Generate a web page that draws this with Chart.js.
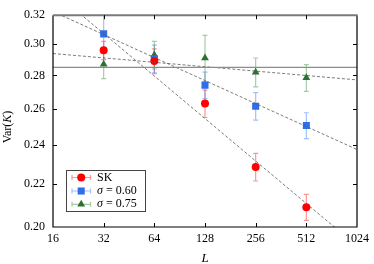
<!DOCTYPE html>
<html>
<head>
<meta charset="utf-8">
<script src="https://cdn.jsdelivr.net/npm/chart.js@4.4.0/dist/chart.umd.min.js"></script>
<style>
    html, body { margin: 0; padding: 0; background: #fff; }
    #wrap { width: 374px; height: 264px; }
</style>
</head>
<body>
<div id="wrap"><canvas id="varChart" width="374" height="264"></canvas></div>
<script>
// Data
const sizes = [32, 64, 128, 256, 512];
const xTicks = [16, 32, 64, 128, 256, 512, 1024];
const yTicks = [0.20, 0.22, 0.24, 0.26, 0.28, 0.30, 0.32];

const varSK = [0.296, 0.289, 0.263, 0.2285, 0.209];
const errSK = [0.006, 0.008, 0.008, 0.007, 0.006];
const var060 = [0.307, 0.2905, 0.274, 0.2615, 0.2505];
const err060 = [0.013, 0.009, 0.008, 0.008, 0.0072];
const var075 = [0.287, 0.293, 0.291, 0.282, 0.2785];
const err075 = [0.009, 0.009, 0.015, 0.009, 0.0083];

// power-law fits a * L^b for SK, 0.60, 0.75
const fitA = [0.4922, 0.3956, 0.3056];
const fitB = [-0.136, -0.0736, -0.01407];
const limitValue = 0.285;

const SERIF = "'Liberation Serif', 'DejaVu Serif', serif";

function fitLine(i) {
    return [16, 1024].map(L => ({ x: L, y: fitA[i] * Math.pow(L, fitB[i]) }));
}
function points(vals) {
    return sizes.map((L, i) => ({ x: L, y: vals[i] }));
}

const series = [
    { label: 'SK', values: varSK, errors: errSK, color: '#ff0000', bar: 'rgba(255,60,60,0.55)', style: 'circle', radius: 4 },
    { label: '0.60', values: var060, errors: err060, color: '#2f6ee8', bar: 'rgba(70,130,250,0.5)', style: 'rect', radius: 5 },
    { label: '0.75', values: var075, errors: err075, color: '#2d7030', bar: 'rgba(60,140,60,0.45)', style: 'triangle', radius: 4.5 }
];

// error bars under markers
const errorBars = {
    id: 'errorBars',
    beforeDatasetsDraw(chart) {
        const { ctx, chartArea, scales: { x, y } } = chart;
        ctx.save();
        ctx.beginPath();
        ctx.rect(chartArea.left, chartArea.top - 1, chartArea.width, chartArea.height + 2);
        ctx.clip();
        series.forEach(s => {
            ctx.strokeStyle = s.bar;
            ctx.lineWidth = 1.2;
            s.values.forEach((v, j) => {
                const px = x.getPixelForValue(sizes[j]);
                const top = y.getPixelForValue(v + s.errors[j]);
                const bot = y.getPixelForValue(v - s.errors[j]);
                ctx.beginPath();
                ctx.moveTo(px, top); ctx.lineTo(px, bot);
                ctx.moveTo(px - 2.5, top); ctx.lineTo(px + 2.5, top);
                ctx.moveTo(px - 2.5, bot); ctx.lineTo(px + 2.5, bot);
                ctx.stroke();
            });
        });
        ctx.restore();
    }
};

// frame, inner ticks, titles and legend
const decorations = {
    id: 'decorations',
    afterDraw(chart) {
        const { ctx, chartArea: a, scales: { x, y } } = chart;
        ctx.save();
        ctx.strokeStyle = '#000';
        ctx.lineWidth = 1.2;
        ctx.beginPath();
        ctx.moveTo(a.left, a.top); ctx.lineTo(a.left, a.bottom);
        ctx.lineTo(a.right, a.bottom); ctx.lineTo(a.right, a.top);
        ctx.stroke();
        ctx.strokeStyle = '#7a7a7a';
        ctx.lineWidth = 2;
        ctx.beginPath();
        ctx.moveTo(a.left, a.top); ctx.lineTo(a.right + 0.6, a.top);
        ctx.stroke();

        ctx.strokeStyle = '#000';
        ctx.lineWidth = 1;
        ctx.beginPath();
        xTicks.slice(1, -1).forEach(v => {
            const px = Math.round(x.getPixelForValue(v)) + 0.5;
            ctx.moveTo(px, a.bottom); ctx.lineTo(px, a.bottom - 4);
            ctx.moveTo(px, a.top); ctx.lineTo(px, a.top + 4);
        });
        yTicks.slice(1, -1).forEach(v => {
            const py = Math.round(y.getPixelForValue(v)) + 0.5;
            ctx.moveTo(a.left, py); ctx.lineTo(a.left + 4, py);
            ctx.moveTo(a.right, py); ctx.lineTo(a.right - 4, py);
        });
        ctx.stroke();

        // axis titles
        ctx.fillStyle = '#000';
        ctx.textBaseline = 'middle';
        ctx.textAlign = 'center';
        ctx.font = `italic 13px ${SERIF}`;
        ctx.fillText('L', (a.left + a.right) / 2, 259);

        ctx.save();
        ctx.translate(8, 127);
        ctx.rotate(-Math.PI / 2);
        ctx.textAlign = 'left';
        const parts = [['Var(', 'normal'], ['K', 'italic'], [')', 'normal']];
        let w = 0;
        parts.forEach(p => { ctx.font = `${p[1]} 12px ${SERIF}`; w += ctx.measureText(p[0]).width; });
        let cx = -w / 2;
        parts.forEach(p => {
            ctx.font = `${p[1]} 12px ${SERIF}`;
            ctx.fillText(p[0], cx, 0);
            cx += ctx.measureText(p[0]).width;
        });
        ctx.restore();

        // legend
        ctx.fillStyle = '#fff';
        ctx.fillRect(66, 170, 79.5, 41.5);
        ctx.strokeStyle = '#444';
        ctx.lineWidth = 1;
        ctx.strokeRect(66.5, 170.5, 79, 41);
        const rows = [177.5, 191, 204.3];
        series.forEach((s, i) => {
            const ly = rows[i];
            ctx.strokeStyle = s.bar;
            ctx.lineWidth = 1.2;
            ctx.beginPath();
            ctx.moveTo(72, ly); ctx.lineTo(90.5, ly);
            ctx.moveTo(72, ly - 2.5); ctx.lineTo(72, ly + 2.5);
            ctx.moveTo(90.5, ly - 2.5); ctx.lineTo(90.5, ly + 2.5);
            ctx.stroke();
            ctx.fillStyle = s.color;
            ctx.strokeStyle = s.color;
            Chart.helpers.drawPoint(ctx, { pointStyle: s.style, radius: s.radius, borderWidth: 0, rotation: 0 }, 81.2, ly);
            ctx.fillStyle = '#000';
            ctx.textAlign = 'left';
            let tx = 97;
            if (i === 0) {
                ctx.font = `12px ${SERIF}`;
                ctx.fillText(s.label, tx, ly);
            } else {
                ctx.font = `italic 12px ${SERIF}`;
                ctx.fillText('σ', tx, ly);
                tx += ctx.measureText('σ').width;
                ctx.font = `12px ${SERIF}`;
                ctx.fillText(' = ' + s.label, tx, ly);
            }
        });
        ctx.restore();
    }
};

const fitDatasets = [0, 1, 2].map(i => ({
    type: 'line',
    data: fitLine(i),
    borderColor: '#5a5a5a',
    borderWidth: 0.8,
    borderDash: [3, 2],
    pointRadius: 0,
    fill: false
}));

const limitDataset = {
    type: 'line',
    data: [{ x: 16, y: limitValue }, { x: 1024, y: limitValue }],
    borderColor: '#8c8c8c',
    borderWidth: 1.4,
    pointRadius: 0,
    fill: false
};

const markerDatasets = series.map(s => ({
    label: s.label,
    data: points(s.values),
    showLine: false,
    pointStyle: s.style,
    pointRadius: s.radius,
    backgroundColor: s.color,
    borderColor: s.color,
    borderWidth: 0
}));

const tickFont = { family: SERIF, size: 12 };

new Chart(document.getElementById('varChart'), {
    type: 'scatter',
    data: { datasets: [limitDataset, ...fitDatasets, ...markerDatasets] },
    options: {
        responsive: false,
        devicePixelRatio: 1,
        animation: false,
        layout: { padding: { top: 5, right: 13, left: 0, bottom: 0 } },
        plugins: { legend: { display: false }, tooltip: { enabled: false } },
        scales: {
            x: {
                type: 'logarithmic',
                min: 16,
                max: 1024,
                afterBuildTicks: s => { s.ticks = xTicks.map(v => ({ value: v })); },
                afterFit: s => { s.height = 37; },
                ticks: { font: tickFont, color: '#000', padding: 5, maxRotation: 0, autoSkip: false, callback: v => String(v) },
                grid: { display: false, drawTicks: false },
                border: { display: false }
            },
            y: {
                type: 'logarithmic',
                min: 0.20,
                max: 0.32,
                afterBuildTicks: s => { s.ticks = yTicks.map(v => ({ value: v })); },
                afterFit: s => { s.width = 53; },
                ticks: { font: tickFont, color: '#000', padding: 8, autoSkip: false, callback: v => v.toFixed(2) },
                grid: { display: false, drawTicks: false },
                border: { display: false }
            }
        }
    },
    plugins: [errorBars, decorations]
});
</script>
</body>
</html>
